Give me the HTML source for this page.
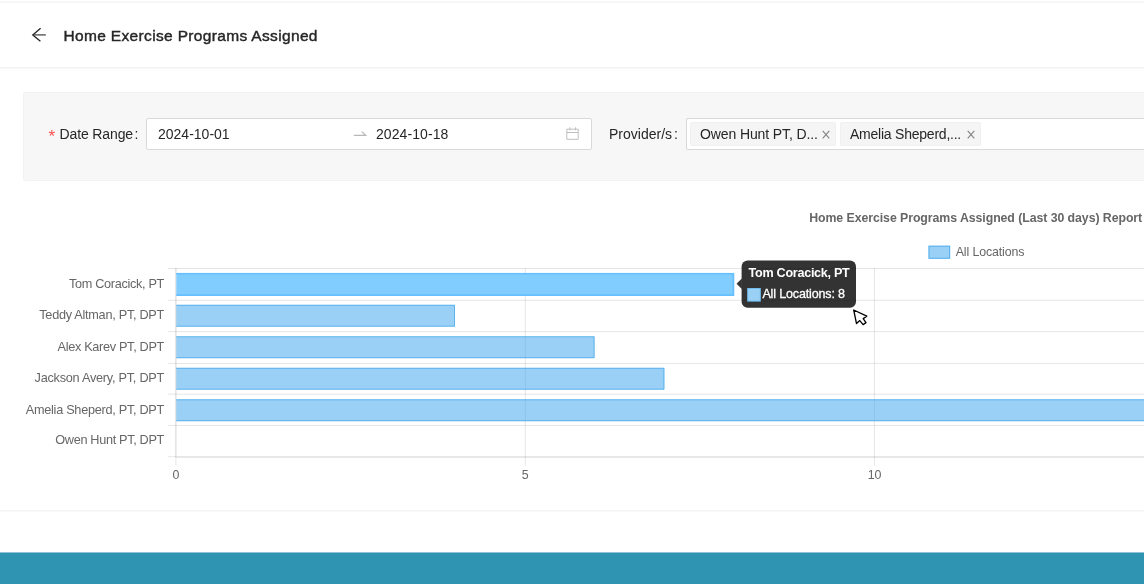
<!DOCTYPE html>
<html><head><meta charset="utf-8">
<style>
*{box-sizing:border-box;margin:0;padding:0}
html,body{width:1144px;height:584px;overflow:hidden;background:#fff;font-family:"Liberation Sans",sans-serif;}
body{position:relative}
.abs{position:absolute}
.line{position:absolute;background:#f0f0f0}
.hdr{position:absolute;left:63.5px;top:25px;transform:translateY(0.65px);font-size:15.5px;letter-spacing:0.34px;-webkit-text-stroke:0.42px #262626;color:#262626;line-height:20px;white-space:nowrap}
.filter{position:absolute;left:23px;top:92px;width:1125px;height:89px;background:#f7f7f7;border:1px solid #f2f2f2;border-radius:2px}
.lbl{position:absolute;font-size:14px;color:#262626;line-height:20px;white-space:nowrap}
.inp{position:absolute;background:#fff;border:1px solid #d9d9d9;border-radius:2px}
.tag{position:absolute;top:3px;height:24px;background:#f5f5f5;border:1px solid #f0f0f0;border-radius:2px;font-size:14px;color:#262626;line-height:22px;white-space:nowrap;padding-left:9px}
.footer{position:absolute;left:0;top:552px;width:1144px;height:32px;background:#2e94b2;border-top:1px solid #8cc4d5}
svg text{font-family:"Liberation Sans",sans-serif}
</style></head><body>
<div class="line" style="left:0;top:1px;width:1144px;height:2px;background:#f6f6f6"></div>
<svg class="abs" style="left:24px;top:20px" width="40" height="30" viewBox="24 20 40 30"><path d="M40.6 28.3L32.8 34.9L40.4 41.3" fill="none" stroke="#262626" stroke-width="1.35"/><path d="M33.8 34.9H45.8" fill="none" stroke="#4a4a4a" stroke-width="1.3"/></svg>
<div class="hdr">Home Exercise Programs Assigned</div>
<div class="line" style="left:0;top:67px;width:1144px;height:1px;background:#f2f2f2"></div>
<div class="line" style="left:0;top:68px;width:1144px;height:1px;background:#f9f9f9"></div>
<div class="filter">
  <div class="lbl" style="left:24.5px;top:34px;color:#ff4d4f;font-size:17px;transform:translateY(-0.4px)">*</div>
  <div class="lbl" style="left:35.5px;top:31px;letter-spacing:-0.12px;transform:translateY(-0.3px)">Date Range<span style="margin-left:1.5px">:</span></div>
  <div class="inp" style="left:122px;top:25px;width:446px;height:32px">
    <div class="lbl" style="left:11px;top:5px">2024-10-01</div>
    <svg class="abs" style="left:206px;top:11px" width="14" height="8" viewBox="0 0 14 8"><path d="M0.8 5.3H12.6L8.8 1.7" fill="none" stroke="#b8b8b8" stroke-width="1.15"/></svg>
    <div class="lbl" style="left:229px;top:5px;letter-spacing:0.08px">2024-10-18</div>
    <svg class="abs" style="left:418px;top:8px" width="16" height="15" viewBox="0 0 16 15"><path d="M1.8 2.2h11.4v10.1H1.8zM1.8 5.5h11.4M4.9 0.3v3M10.4 0.3v3" fill="none" stroke="#bfbfbf" stroke-width="1"/></svg>
  </div>
  <div class="lbl" style="left:585px;top:31px;transform:translateY(-0.3px)">Provider/s<span style="margin-left:2px">:</span></div>
  <div class="inp" style="left:662px;top:25px;width:470px;height:32px;border-right:none;border-radius:2px 0 0 2px">
    <div class="tag" style="left:3px;width:146px"><span style="letter-spacing:-0.11px">Owen Hunt PT, D...</span><svg class="abs" style="left:131px;top:7px" width="8" height="9" viewBox="0 0 8 9"><path d="M0.7 0.9l6.6 7.4M7.3 0.9l-6.6 7.4" stroke="#858585" stroke-width="1.15" fill="none"/></svg></div>
    <div class="tag" style="left:153px;width:141px"><span style="letter-spacing:-0.23px">Amelia Sheperd,...</span><svg class="abs" style="left:126px;top:7px" width="8" height="9" viewBox="0 0 8 9"><path d="M0.7 0.9l6.6 7.4M7.3 0.9l-6.6 7.4" stroke="#858585" stroke-width="1.15" fill="none"/></svg></div>
  </div>
</div>
<svg class="abs" style="left:0;top:200px" width="1144" height="310" viewBox="0 200 1144 310">
<rect x="168" y="268.00" width="980" height="1" fill="rgba(0,0,0,0.1)"/>
<rect x="168" y="299.80" width="980" height="1" fill="rgba(0,0,0,0.1)"/>
<rect x="168" y="331.10" width="980" height="1" fill="rgba(0,0,0,0.1)"/>
<rect x="168" y="362.90" width="980" height="1" fill="rgba(0,0,0,0.1)"/>
<rect x="168" y="393.60" width="980" height="1" fill="rgba(0,0,0,0.1)"/>
<rect x="168" y="424.90" width="980" height="1" fill="rgba(0,0,0,0.1)"/>
<rect x="168" y="456.20" width="8" height="1" fill="rgba(0,0,0,0.1)"/>
<rect x="175.4" y="456.35" width="980" height="1.25" fill="rgba(0,0,0,0.15)"/>
<rect x="175.4" y="268" width="1" height="189" fill="rgba(0,0,0,0.17)"/>
<rect x="175.4" y="457.7" width="1" height="7.9" fill="rgba(0,0,0,0.1)"/>
<rect x="524.8" y="268" width="1" height="197.6" fill="rgba(0,0,0,0.1)"/>
<rect x="873.9" y="268" width="1" height="197.6" fill="rgba(0,0,0,0.1)"/>
<rect x="176.3" y="272.90" width="557.9" height="23.0" fill="#82cdff"/>
<path d="M176.3 273.75H733.3V295.05H176.3" fill="none" stroke="#66c0ff" stroke-width="1.7"/>
<rect x="176.3" y="304.80" width="278.7" height="21.9" fill="rgba(54,162,235,0.5)"/>
<path d="M176.3 305.30H454.5V326.20H176.3" fill="none" stroke="rgba(54,162,235,0.6)" stroke-width="1"/>
<rect x="176.3" y="336.30" width="418.3" height="21.9" fill="rgba(54,162,235,0.5)"/>
<path d="M176.3 336.80H594.1V357.70H176.3" fill="none" stroke="rgba(54,162,235,0.6)" stroke-width="1"/>
<rect x="176.3" y="367.80" width="488.1" height="21.9" fill="rgba(54,162,235,0.5)"/>
<path d="M176.3 368.30H663.9V389.20H176.3" fill="none" stroke="rgba(54,162,235,0.6)" stroke-width="1"/>
<rect x="176.3" y="399.30" width="2093.5" height="21.9" fill="rgba(54,162,235,0.5)"/>
<path d="M176.3 399.80H2269.3V420.70H176.3" fill="none" stroke="rgba(54,162,235,0.6)" stroke-width="1"/>
<text x="164.3" y="287.7" text-anchor="end" font-size="12.7" fill="#666" textLength="95.2" lengthAdjust="spacing">Tom Coracick, PT</text>
<text x="164.3" y="318.8" text-anchor="end" font-size="12.7" fill="#666" textLength="125" lengthAdjust="spacing">Teddy Altman, PT, DPT</text>
<text x="164.3" y="350.5" text-anchor="end" font-size="12.7" fill="#666" textLength="106.7" lengthAdjust="spacing">Alex Karev PT, DPT</text>
<text x="164.3" y="381.6" text-anchor="end" font-size="12.7" fill="#666" textLength="129.7" lengthAdjust="spacing">Jackson Avery, PT, DPT</text>
<text x="164.3" y="413.8" text-anchor="end" font-size="12.7" fill="#666" textLength="138.5" lengthAdjust="spacing">Amelia Sheperd, PT, DPT</text>
<text x="164.3" y="444.1" text-anchor="end" font-size="12.7" fill="#666" textLength="109" lengthAdjust="spacing">Owen Hunt PT, DPT</text>
<text x="176" y="479" text-anchor="middle" font-size="12.4" fill="#666">0</text>
<text x="525.2" y="479" text-anchor="middle" font-size="12.4" fill="#666">5</text>
<text x="874.6" y="479" text-anchor="middle" font-size="12.4" fill="#666">10</text>
<text x="1142.2" y="222.4" text-anchor="end" font-size="12.3" font-weight="bold" fill="#666" textLength="333" lengthAdjust="spacing">Home Exercise Programs Assigned (Last 30 days) Report</text>
<rect x="928.9" y="246.1" width="20.8" height="12.2" fill="rgba(54,162,235,0.5)" stroke="rgba(54,162,235,0.85)" stroke-width="1"/>
<text x="955.7" y="255.9" font-size="12.4" fill="#666" textLength="68.7" lengthAdjust="spacing">All Locations</text>
<path d="M736.6 283.8l5.2 -5.2v10.4z" fill="rgba(0,0,0,0.8)"/>
<rect x="741.6" y="260.5" width="114.4" height="47.2" rx="6" fill="rgba(0,0,0,0.8)"/>
<text x="748.6" y="277.3" font-size="12.6" font-weight="bold" fill="#fff" textLength="101.2" lengthAdjust="spacing">Tom Coracick, PT</text>
<rect x="747.7" y="288.5" width="12.6" height="12.6" fill="#9ad0f5" stroke="#6ebcf0" stroke-width="1"/>
<text x="762.4" y="297.8" font-size="12.5" fill="#fff" stroke="#fff" stroke-width="0.3" textLength="82.6" lengthAdjust="spacing">All Locations: 8</text>
<path d="M853.7 310L856.5 323.6L859.8 320.6L863.1 324.6L866 322.6L863.2 318.6L866.8 316.2Z" fill="#fff" stroke="#000" stroke-width="1.3" stroke-linejoin="round"/>
</svg>
<div class="line" style="left:0;top:510px;width:1144px;height:1px;background:#f4f4f4"></div><div class="line" style="left:0;top:511px;width:1144px;height:1px;background:#fafafa"></div>
<div class="footer"></div>
</body></html>
